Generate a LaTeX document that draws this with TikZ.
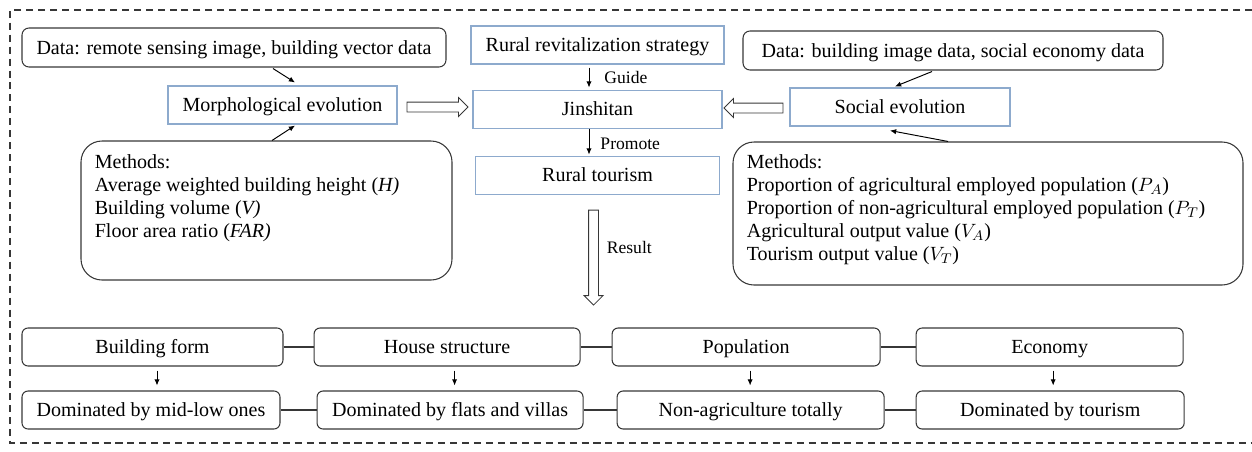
\documentclass[tikz,border=0pt]{standalone}
\usepackage{fontspec}
\setmainfont{Liberation Serif}
\usetikzlibrary{positioning,calc,arrows.meta,shapes.arrows}
\definecolor{boxblue}{RGB}{141,170,205}
\definecolor{linegray}{RGB}{55,55,55}

\begin{document}
\begin{tikzpicture}[
  font=\fontsize{11.4}{13}\selectfont,
  rbox/.style={draw=linegray, line width=0.6pt, rounded corners=0.14cm, minimum height=0.78cm, inner sep=0pt, text height=10.2pt, text depth=2.6pt},
  evobox/.style={draw=boxblue, line width=0.6pt, minimum height=0.76cm, inner sep=0pt, text height=10.2pt, text depth=2.6pt},
  methbox/.style={draw=linegray, line width=0.6pt, rounded corners=0.42cm, inner sep=0pt},
  resbox/.style={draw=linegray, line width=0.6pt, rounded corners=0.12cm, minimum height=0.76cm, inner sep=0pt, text height=10.2pt, text depth=2.6pt},
  sarrow/.style={-{Latex[length=3.5pt,width=3pt]}, line width=0.55pt},
  fatarrow/.style={single arrow, draw=linegray, line width=0.5pt, inner xsep=0pt, inner ysep=0.09cm, single arrow head extend=0.09cm, single arrow head indent=0pt},
  lbl/.style={font=\fontsize{10}{12}\selectfont, inner sep=0pt}
]
  \useasboundingbox (0,0) rectangle (25.04,9.02);
  %outer frame, open on the right
  \draw[linegray, line width=0.6pt, dash pattern=on 4pt off 2.8pt] (25.04,8.82) -| (0.2,0.16) -- (25.04,0.16);

  %left side: morphology
  \node[rbox, minimum width=8.48cm] (dataL) at (4.68,8.07) {Data: remote sensing image, building vector data};
  \node[evobox, minimum width=4.58cm] (morph) at (5.65,6.92) {Morphological evolution};
  \node[methbox, minimum width=7.42cm, minimum height=2.78cm] (methL) at (5.33,4.81) {};
  \node[anchor=north west, align=left, inner sep=0pt] (methLtxt) at ($(methL.north west)+(0.28,-0.28)$)
    {Methods:\\Average weighted building height (\textit{H)}\\Building volume (\textit{V)}\\Floor area ratio (\textit{FAR)}};

  %centre column
  \node[evobox, minimum width=5.06cm] (strat) at (11.95,8.12) {Rural revitalization strategy};
  \node[evobox, minimum width=4.98cm] (jin) [below=0.5cm of strat] {Jinshitan};
  \node[evobox, minimum width=4.88cm] (tour) [below=0.54cm of jin] {Rural tourism};

  %right side: society
  \node[rbox, minimum width=8.40cm] (dataR) at (19.06,8.01) {Data: building image data, social economy data};
  \node[evobox, minimum width=4.40cm] (soc) at (18.00,6.88) {Social evolution};
  \node[methbox, minimum width=10.20cm, minimum height=2.86cm] (methR) at (19.76,4.75) {};
  \node[anchor=north west, align=left, inner sep=0pt] (methRtxt) at ($(methR.north west)+(0.28,-0.26)$)
    {Methods:\\Proportion of agricultural employed population ($P_A$)\\Proportion of non-agricultural employed population ($P_T$)\\Agricultural output value ($V_A$)\\Tourism output value ($V_T$)};

  %small arrows into the evolution boxes
  \draw[sarrow] ([xshift=0.78cm,yshift=-0.02cm]dataL.south) -- ([xshift=0.25cm,yshift=0.06cm]morph.north);
  \draw[sarrow] ([xshift=0.11cm]methL.north) -- ([xshift=0.25cm,yshift=-0.02cm]morph.south);
  \draw[sarrow] ([xshift=-0.42cm,yshift=-0.02cm]dataR.south) -- ([xshift=-0.10cm,yshift=0.02cm]soc.north);
  \draw[sarrow] ([xshift=-0.80cm]methR.north) -- ([xshift=-0.20cm,yshift=-0.08cm]soc.south);

  %centre arrows with labels
  \draw[sarrow] ([xshift=-0.17cm,yshift=-0.06cm]strat.south) -- ([xshift=-0.17cm,yshift=0.04cm]jin.north)
    node[lbl, midway, right=0.3cm] (guide) {Guide};
  \draw[sarrow] ([xshift=-0.17cm]jin.south) -- ([xshift=-0.17cm,yshift=0.02cm]tour.north)
    node[lbl, midway, yshift=-0.04cm, right=0.22cm] (promote) {Promote};

  %hollow arrows
  \node[fatarrow, minimum height=1.22cm] (h1) at ($(morph.east)!0.5!(jin.west)$) {};
  \node[fatarrow, minimum height=1.18cm, rotate=180] (h2) at ($(soc.west)!0.5!(jin.east)$) {};
  \node[fatarrow, minimum height=1.90cm, rotate=-90] (h3) at ($(tour.south)+(-0.08,-1.21)$) {};
  \node[lbl, anchor=west] (result) at ($(h3.center)+(0.26,0.15)$) {Result};

  %results, first row
  \node[resbox, minimum width=5.22cm] (bf) at (3.05,2.08) {Building form};
  \node[resbox, minimum width=5.32cm] (hs) [right=0.6cm of bf] {House structure};
  \node[resbox, minimum width=5.36cm] (pop) [right=0.62cm of hs] {Population};
  \node[resbox, minimum width=5.34cm] (eco) [right=0.7cm of pop] {Economy};
  %results, second row
  \node[resbox, minimum width=5.16cm] (dm) at (3.02,0.82) {Dominated by mid-low ones};
  \node[resbox, minimum width=5.32cm] (df) [right=0.72cm of dm] {Dominated by flats and villas};
  \node[resbox, minimum width=5.34cm] (na) [right=0.66cm of df] {Non-agriculture totally};
  \node[resbox, minimum width=5.36cm] (dt) [right=0.62cm of na] {Dominated by tourism};

  \draw[linegray, line width=0.6pt] (bf.east) -- (hs.west);
  \draw[linegray, line width=0.6pt] (hs.east) -- (pop.west);
  \draw[linegray, line width=0.6pt] (pop.east) -- (eco.west);
  \draw[linegray, line width=0.6pt] (dm.east) -- (df.west);
  \draw[linegray, line width=0.6pt] (df.east) -- (na.west);
  \draw[linegray, line width=0.6pt] (na.east) -- (dt.west);

  \draw[sarrow] ([xshift=0.09cm,yshift=-0.08cm]bf.south) -- ([xshift=0.09cm,yshift=0.1cm]bf.south |- dm.north);
  \draw[sarrow] ([xshift=0.15cm,yshift=-0.08cm]hs.south) -- ([xshift=0.15cm,yshift=0.1cm]hs.south |- df.north);
  \draw[sarrow] ([xshift=0.08cm,yshift=-0.08cm]pop.south) -- ([xshift=0.08cm,yshift=0.1cm]pop.south |- na.north);
  \draw[sarrow] ([xshift=0.07cm,yshift=-0.08cm]eco.south) -- ([xshift=0.07cm,yshift=0.1cm]eco.south |- dt.north);
\end{tikzpicture}
\end{document}
